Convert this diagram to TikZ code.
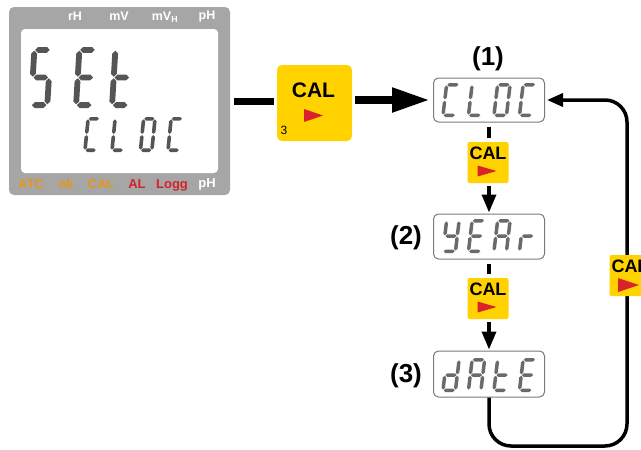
\documentclass[tikz,border=0pt]{standalone}
\usepackage{fontspec}
\setmainfont{Liberation Sans}
\usetikzlibrary{arrows.meta,calc}
\definecolor{calyel}{HTML}{FFD200}
\definecolor{calred}{HTML}{D9222A}
\definecolor{panelgray}{HTML}{A6A6A6}
\definecolor{segdark}{HTML}{555555}
\definecolor{seglcd}{HTML}{6A6A6A}
\definecolor{boxgray}{HTML}{7A7A7A}
\definecolor{lblorange}{HTML}{E8961A}
\definecolor{lblred}{HTML}{D4232D}
% seven-segment drawing
\newcommand\hsg[1]{%
  \pgfmathsetmacro\sv{#1}%
  \pgfmathsetmacro\sxa{\sgT+\sgGap}%
  \pgfmathsetmacro\sxb{\sgW-\sgT-\sgGap}%
  \fill[fill=\sgCol] ({\sgX+\sxa+\sgSl*\sv},{\sgY-\sv}) -- ({\sgX+\sxa+\sgT+\sgSl*(\sv+\sgT)},{\sgY-\sv-\sgT}) -- ({\sgX+\sxb-\sgT+\sgSl*(\sv+\sgT)},{\sgY-\sv-\sgT}) -- ({\sgX+\sxb+\sgSl*\sv},{\sgY-\sv}) -- ({\sgX+\sxb-\sgT+\sgSl*(\sv-\sgT)},{\sgY-\sv+\sgT}) -- ({\sgX+\sxa+\sgT+\sgSl*(\sv-\sgT)},{\sgY-\sv+\sgT}) -- cycle;}
\newcommand\vsg[3]{%
  \pgfmathsetmacro\sx{#1}%
  \pgfmathsetmacro\sva{#2+\sgGap}%
  \pgfmathsetmacro\svb{#3-\sgGap}%
  \fill[fill=\sgCol] ({\sgX+\sx+\sgSl*\sva},{\sgY-\sva}) -- ({\sgX+\sx+\sgT+\sgSl*(\sva+\sgT)},{\sgY-\sva-\sgT}) -- ({\sgX+\sx+\sgT+\sgSl*(\svb-\sgT)},{\sgY-\svb+\sgT}) -- ({\sgX+\sx+\sgSl*\svb},{\sgY-\svb}) -- ({\sgX+\sx-\sgT+\sgSl*(\svb-\sgT)},{\sgY-\svb+\sgT}) -- ({\sgX+\sx-\sgT+\sgSl*(\sva+\sgT)},{\sgY-\sva-\sgT}) -- cycle;}
\newcommand\sgmA{\hsg{\sgHt-\sgT}}
\newcommand\sgmG{\hsg{\sgHt/2}}
\newcommand\sgmD{\hsg{\sgT}}
\newcommand\sgmF{\vsg{\sgT}{\sgHt/2}{\sgHt-\sgT}}
\newcommand\sgmE{\vsg{\sgT}{\sgT}{\sgHt/2}}
\newcommand\sgmB{\vsg{\sgW-\sgT}{\sgHt/2}{\sgHt-\sgT}}
\newcommand\sgmC{\vsg{\sgW-\sgT}{\sgT}{\sgHt/2}}
\newcommand\sevseg[3]{\def\sgX{#1}\def\sgY{#2}\foreach \q in {#3}{\csname sgm\q\endcsname}}
\newcommand\playtri[1]{\fill[calred] ($(#1.center)+(-10.5,3)$) -- ($(#1.center)+(8.5,8.5)$) -- ($(#1.center)+(-10.5,14)$) -- cycle;}
\begin{document}
\begin{tikzpicture}[x=1pt,y=-1pt,
  panel/.style={fill=panelgray, rounded corners=5pt, minimum width=221pt, minimum height=188pt, inner sep=0pt},
  dispscreen/.style={fill=white, rounded corners=4pt, minimum width=197pt, minimum height=144pt, inner sep=0pt},
  toplbl/.style={text=white, font=\bfseries\fontsize{12.5}{14}\selectfont, inner sep=0pt},
  botlbl/.style={font=\bfseries\fontsize{13}{15}\selectfont, inner sep=0pt},
  lcdbox/.style={draw=boxgray, line width=1pt, fill=white, rounded corners=5pt, minimum width=111pt, minimum height=44pt, inner sep=0pt},
  calbtn/.style={fill=calyel, rounded corners=2pt, minimum width=41pt, minimum height=41pt, inner sep=0pt},
  bigbtn/.style={fill=calyel, rounded corners=5pt, minimum width=75pt, minimum height=76pt, inner sep=0pt},
  caltxt/.style={font=\bfseries\fontsize{18}{20}\selectfont, inner sep=0pt},
  bigtxt/.style={font=\bfseries\fontsize{21}{24}\selectfont, inner sep=0pt},
  numlbl/.style={font=\bfseries\fontsize{26}{30}\selectfont, inner sep=0pt},
  conn/.style={line width=3.5pt},
  tipsmall/.style={-{Triangle[length=18pt,width=14pt]}},
]
\path[use as bounding box, clip] (0,0) rectangle (641,450);
% display panel
\node[panel] (disp) at (119.5,101) {};
\node[dispscreen] (scr) at (119.5,101) {};
\node[toplbl] (trh) at (75,16) {rH};
\node[toplbl] (tmv) at (119,16) {mV};
\node[toplbl] (tmvh) at (165,17) {mV\textsubscript{H}};
\node[toplbl] (tph) at (207,16) {pH};
\node[botlbl, text=lblorange] (batc) at (31,184) {ATC};
\node[botlbl, text=lblorange] (bok) at (66,184) {ok};
\node[botlbl, text=lblorange] (bcal) at (101,184) {CAL};
\node[botlbl, text=lblred] (bal) at (137,184) {AL};
\node[botlbl, text=lblred] (blogg) at (172,185) {Logg};
\node[botlbl, text=white] (bph) at (207,184) {pH};
% big digits SEt
\def\sgW{22}\def\sgHt{61}\def\sgT{2.9}\def\sgGap{0.8}\def\sgSl{0.06}\def\sgCol{segdark}
\sevseg{28}{108}{A,F,G,C,D}
\sevseg{73}{108}{A,F,G,E,D}
\sevseg{109}{108}{F,E,G,D}
% small digits CLOC
\def\sgW{15}\def\sgHt{35}\def\sgT{1.8}\def\sgGap{0.6}\def\sgSl{0.1}
\sevseg{83}{152}{A,F,E,D}
\sevseg{110}{152}{F,E,D}
\sevseg{138.5}{152}{A,B,C,D,E,F}
\sevseg{166}{152}{A,F,E,D}
% big CAL button
\node[bigbtn] (calbig) at (314.5,103) {};
\node[bigtxt] (calbigt) at (313.5,90.5) {CAL};
\node[font=\fontsize{12}{14}\selectfont, inner sep=0pt] (calbig3) at (284,130) {3};
\fill[calred] ($(calbig.center)+(-10.5,6)$) -- ($(calbig.center)+(8.5,12.5)$) -- ($(calbig.center)+(-10.5,19)$) -- cycle;
% LCD boxes
\node[lcdbox] (box1) at (489,100) {};
\node[lcdbox, minimum height=45pt] (box2) at (489,236.5) {};
\node[lcdbox, minimum height=46pt] (box3) at (489,374) {};
\node[numlbl] (lbl1) at (488,59) {(1)};
\node[numlbl] (lbl2) at (406,238) {(2)};
\node[numlbl] (lbl3) at (406,376) {(3)};
\def\sgW{16}\def\sgHt{34}\def\sgT{1.75}\def\sgGap{0.7}\def\sgSl{0.12}\def\sgCol{seglcd}
\sevseg{441}{117}{A,F,E,D}
\sevseg{466.5}{117}{F,E,D}
\sevseg{492}{117}{A,B,C,D,E,F}
\sevseg{517.5}{117}{A,F,E,D}
\sevseg{441}{253}{F,B,G,C,D}
\sevseg{466.5}{253}{A,F,G,E,D}
\sevseg{492}{253}{A,B,C,E,F,G}
\sevseg{517.5}{253}{E,G}
\sevseg{441}{392}{B,C,D,E,G}
\sevseg{466.5}{392}{A,B,C,E,F,G}
\sevseg{492}{392}{F,E,G,D}
\sevseg{517.5}{392}{A,F,G,E,D}
% small CAL buttons
\node[calbtn] (cal1) at (488,162.5) {};
\node[caltxt] (cal1t) at (488,153) {CAL};
\playtri{cal1}
\node[calbtn] (cal2) at (488,298.5) {};
\node[caltxt] (cal2t) at (488,289) {CAL};
\playtri{cal2}
% connectors
\draw[line width=7pt] ([xshift=4pt]disp.east) -- ([xshift=-3pt]disp.east -| calbig.west);
\draw[line width=8pt, -{Triangle[length=38pt,width=23pt]}] ([xshift=3pt]calbig.east |- box1.west) -- ([xshift=-3pt]box1.west);
\draw[conn, shorten <=4pt, shorten >=4pt] (box1.south) -- (box1.south |- cal1.north);
\draw[conn, tipsmall, shorten <=3pt, shorten >=1pt] (box1.south |- cal1.south) -- (box2.north);
\draw[conn, shorten <=4pt, shorten >=4pt] (box2.south) -- (box2.south |- cal2.north);
\draw[conn, tipsmall, shorten <=3pt, shorten >=1pt] (box2.south |- cal2.south) -- (box3.north);
\coordinate (lpbl) at (489,446);
\coordinate (lpbr) at (627,446);
\coordinate (lptr) at (627,100);
\draw[conn, rounded corners=22pt, -{Triangle[length=16pt,width=13pt]}, shorten >=2pt] (box3.south) -- (lpbl) -- (lpbr) -- (lptr) -- (box1.east);
% right CAL button
\node[calbtn] (calr) at (630,275.5) {};
\node[caltxt] (calrt) at (630,266) {CAL};
\fill[calred] ($(calr.center)+(-12,2.5)$) -- ($(calr.center)+(9,9.5)$) -- ($(calr.center)+(-12,16.5)$) -- cycle;
\end{tikzpicture}
\end{document}
